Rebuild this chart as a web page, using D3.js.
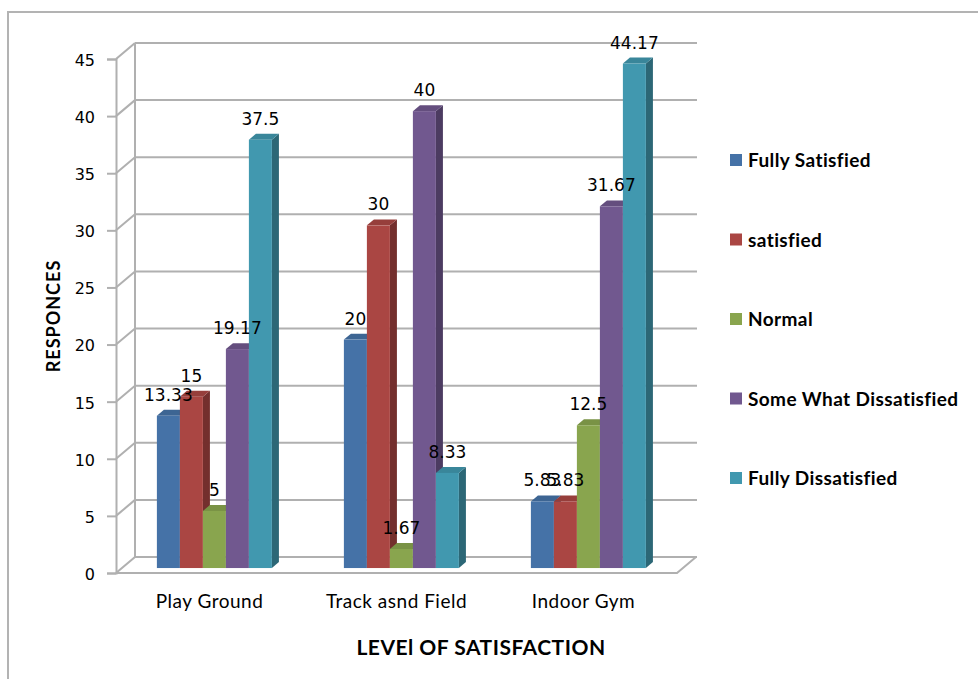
<!DOCTYPE html>
<html>
<head>
<meta charset="utf-8">
<script src="https://cdn.jsdelivr.net/npm/d3@7"></script>
<style>
  html, body { margin: 0; padding: 0; background: #fff; }
  svg { display: block; }
  text { font-variant-ligatures: none; font-feature-settings: "liga" 0, "clig" 0; }
</style>
</head>
<body>
<svg id="chart" width="978" height="679"></svg>
<script>
// Survey responses (%) by facility and satisfaction level
const categories = ["Play Ground", "Track asnd Field", "Indoor Gym"];
const seriesNames = ["Fully Satisfied", "satisfied", "Normal", "Some What Dissatisfied", "Fully Dissatisfied"];
const fullySatisfied = [13.33, 20, 5.83];
const satisfied = [15, 30, 5.83];
const normal = [5, 1.67, 12.5];
const someWhatDissatisfied = [19.17, 40, 31.67];
const fullyDissatisfied = [37.5, 8.33, 44.17];
const seriesColors = ["#4572A7", "#AA4643", "#89A54E", "#71588F", "#4198AF"];
const yTicks = [0, 5, 10, 15, 20, 25, 30, 35, 40, 45];

const seriesValues = [fullySatisfied, satisfied, normal, someWhatDissatisfied, fullyDissatisfied];

const svg = d3.select("#chart");

// outer chart border
svg.append("rect")
  .attr("x", 8).attr("y", 12)
  .attr("width", 990).attr("height", 700)
  .attr("fill", "#fff")
  .attr("stroke", "#b3b3b3").attr("stroke-width", 2);

// 3D projection: front plane scales plus a depth offset
const depthDX = 19, depthDY = -16;
const x = d3.scaleBand().domain(categories).range([116, 677]);
const y = d3.scaleLinear().domain([0, 45]).range([573, 59]);
const proj = (px, v, d) => [px + depthDX * d, y(v) + depthDY * d];

const gridColor = "#b0b0b0";
const grid = svg.append("g").attr("fill", "none").attr("stroke", gridColor).attr("stroke-width", 2);

// back wall gridlines and side wall diagonals
yTicks.forEach(t => {
  const [bx, by] = proj(116, t, 1);
  grid.append("line").attr("x1", bx).attr("y1", by).attr("x2", 697).attr("y2", by);
  grid.append("line").attr("x1", 116).attr("y1", y(t)).attr("x2", bx).attr("y2", by);
});
// back wall left edge
grid.append("line").attr("x1", 116 + depthDX).attr("y1", y(0) + depthDY)
  .attr("x2", 116 + depthDX).attr("y2", y(45) + depthDY);
// floor outline
grid.append("path").attr("d", d3.line()([
  [116, y(0)], [677, y(0)], [677 + depthDX, y(0) + depthDY]
]));

// front vertical axis
const axisG = svg.append("g").attr("transform", "translate(116,0)")
  .call(d3.axisLeft(y).tickValues(yTicks).tickSize(9).tickPadding(12).tickFormat(d3.format("d")));
axisG.select(".domain").attr("stroke", gridColor).attr("stroke-width", 2);
axisG.selectAll(".tick line").attr("stroke", gridColor).attr("stroke-width", 2);
axisG.selectAll(".tick text")
  .attr("font-family", "DejaVu Sans, Verdana, sans-serif")
  .attr("font-size", 16).attr("fill", "#000").attr("dy", "0.4em");

// bars
const inner = d3.scaleBand().domain(seriesNames).range([35, 35 + 115]);
const d0 = 0.31, d1 = 0.68;
const barsG = svg.append("g");
const labelData = [];

categories.forEach((cat, ci) => {
  seriesNames.forEach((s, si) => {
    const v = seriesValues[si][ci];
    const xl = x(cat) + inner(s);
    const xr = xl + inner.bandwidth();
    const base = seriesColors[si];
    const topCol = d3.color(base).darker(0.35);
    const sideCol = d3.color(base).darker(1.1);
    const g = barsG.append("g");
    // right side face
    g.append("path").attr("fill", sideCol).attr("d", d3.line()([
      proj(xr, 0, d0), proj(xr, 0, d1), proj(xr, v, d1), proj(xr, v, d0)
    ]) + "Z");
    // top face
    g.append("path").attr("fill", topCol).attr("d", d3.line()([
      proj(xl, v, d0), proj(xr, v, d0), proj(xr, v, d1), proj(xl, v, d1)
    ]) + "Z");
    // front face
    const [fx, fy] = proj(xl, v, d0);
    const [, fb] = proj(xl, 0, d0);
    g.append("rect").attr("x", fx).attr("y", fy)
      .attr("width", inner.bandwidth()).attr("height", fb - fy).attr("fill", base);
    labelData.push({ v, cx: fx + inner.bandwidth() / 2, ty: fy });
  });
});

// value labels
svg.append("g").selectAll("text").data(labelData).join("text")
  .attr("x", d => d.cx).attr("y", d => d.ty - 15)
  .attr("text-anchor", "middle")
  .attr("font-family", "DejaVu Sans, Verdana, sans-serif")
  .attr("font-size", 17).attr("fill", "#000")
  .text(d => d.v);

// category labels
svg.append("g").selectAll("text").data(categories).join("text")
  .attr("x", d => x(d) + x.bandwidth() / 2).attr("y", 608)
  .attr("text-anchor", "middle")
  .attr("font-family", "Lato, sans-serif").attr("font-size", 19)
  .attr("letter-spacing", 0.5)
  .attr("fill", "#000")
  .text(d => d);

// axis titles
svg.append("text").attr("x", 481).attr("y", 655)
  .attr("text-anchor", "middle")
  .attr("font-family", "Lato, sans-serif").attr("font-weight", 700).attr("font-size", 21)
  .attr("letter-spacing", 0.5)
  .text("LEVEl OF SATISFACTION");
svg.append("text")
  .attr("transform", "translate(60,316) rotate(-90)")
  .attr("text-anchor", "middle")
  .attr("font-family", "Lato, sans-serif").attr("font-weight", 700).attr("font-size", 18)
  .attr("letter-spacing", 1)
  .text("RESPONCES");

// legend
const legendY = d3.scalePoint().domain(seriesNames).range([160, 478]);
const legend = svg.append("g").selectAll("g").data(seriesNames).join("g")
  .attr("transform", d => `translate(730,${legendY(d)})`);
legend.append("rect").attr("x", 0).attr("y", -6).attr("width", 12).attr("height", 12)
  .attr("fill", (d, i) => seriesColors[i]);
legend.append("text").attr("x", 18).attr("y", 7)
  .attr("font-family", "Lato, sans-serif").attr("font-weight", 700).attr("font-size", 19)
  .attr("letter-spacing", 0.4)
  .text(d => d);
</script>
</body>
</html>
